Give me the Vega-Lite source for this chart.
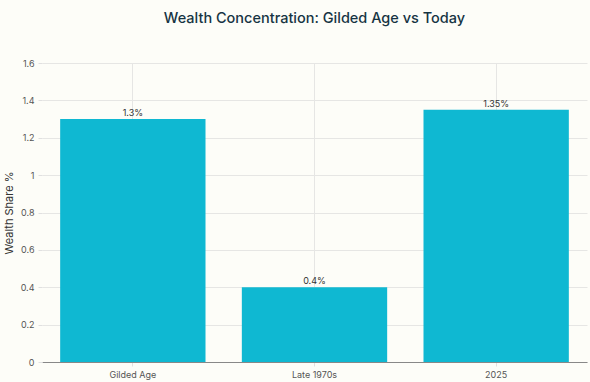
{
  "$schema": "https://vega.github.io/schema/vega-lite/v6.json",
  "width": 545,
  "height": 299,
  "autosize": "none",
  "padding": {"left": 42, "top": 63, "right": 3, "bottom": 20},
  "background": "#fdfdf8",
  "title": {
    "text": "Wealth Concentration: Gilded Age vs Today",
    "anchor": "middle",
    "fontSize": 14.5,
    "fontWeight": 500,
    "font": "Inter",
    "color": "#163443",
    "offset": 22,
    "baseline": "alphabetic"
  },
  "config": {
    "view": {"stroke": null},
    "font": "Inter",
    "axis": {
      "labelFont": "Inter",
      "titleFont": "Inter",
      "labelFontSize": 9,
      "labelColor": "#555",
      "gridColor": "#e6e6e4",
      "tickColor": "#e0e0e0",
      "tickSize": 4,
      "titleFontWeight": "normal",
      "titleFontSize": 11,
      "titleColor": "#333"
    }
  },
  "data": {
    "values": [
      {"period": "Gilded Age", "share": 1.3, "label": "1.3%"},
      {"period": "Late 1970s", "share": 0.4, "label": "0.4%"},
      {"period": "2025", "share": 1.35, "label": "1.35%"}
    ]
  },
  "encoding": {
    "x": {
      "field": "period",
      "type": "nominal",
      "sort": null,
      "scale": {"paddingInner": 0.2, "paddingOuter": 0.1},
      "axis": {
        "title": null,
        "labelAngle": 0,
        "grid": true,
        "domainColor": "#888",
        "labelPadding": 4
      }
    },
    "y": {
      "field": "share",
      "type": "quantitative",
      "scale": {"domain": [0, 1.6]},
      "axis": {
        "title": "Wealth Share %",
        "values": [0, 0.2, 0.4, 0.6, 0.8, 1, 1.2, 1.4, 1.6],
        "format": "~g",
        "labelOverlap": false,
        "domain": false,
        "titlePadding": 6,
        "labelPadding": 4
      }
    }
  },
  "layer": [
    {"mark": {"type": "bar", "color": "#0fb8d2"}},
    {
      "mark": {"type": "text", "dy": -6, "fontSize": 9, "color": "#333", "font": "Inter"},
      "encoding": {"text": {"field": "label"}}
    }
  ]
}
